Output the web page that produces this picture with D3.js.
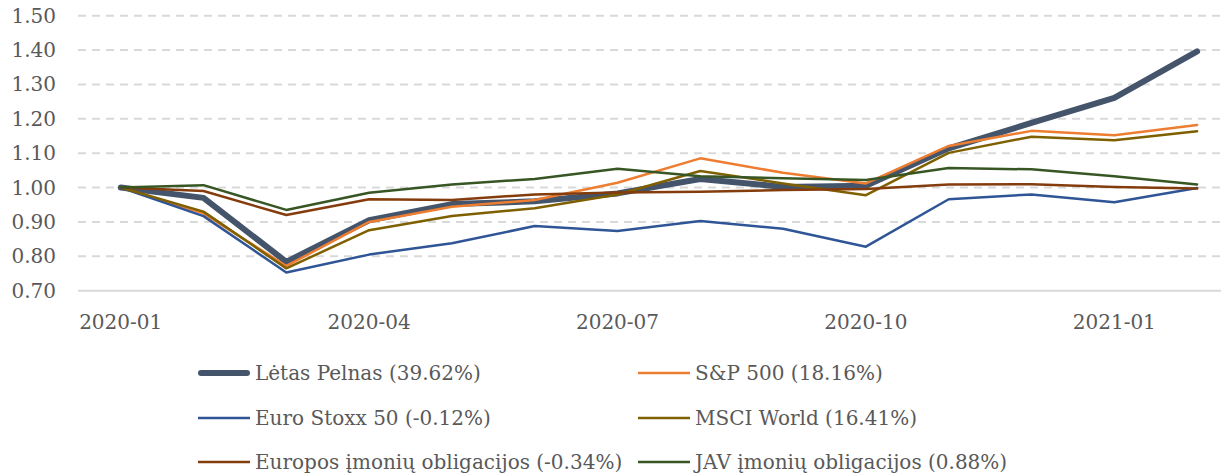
<!DOCTYPE html>
<html lang="lt">
  <head>
    <meta charset="UTF-8" />
    <title>Lėtas Pelnas</title>
    <style>
      body {
        margin: 0;
        background: #fff;
      }
      svg {
        display: block;
      }
      text {
        font-family: "DejaVu Serif", serif;
        font-size: 20px;
        fill: #595959;
      }
    </style>
  </head>
  <body>
    <svg width="1225" height="476"></svg>

    <script src="https://d3js.org/d3.v7.min.js"></script>
    <script>
      // mėnesiai
      const months = [
        "2020-01", "2020-02", "2020-03", "2020-04", "2020-05", "2020-06", "2020-07",
        "2020-08", "2020-09", "2020-10", "2020-11", "2020-12", "2021-01", "2021-02",
      ];
      const tickMonths = ["2020-01", "2020-04", "2020-07", "2020-10", "2021-01"];
      const yTicks = [0.7, 0.8, 0.9, 1.0, 1.1, 1.2, 1.3, 1.4, 1.5];

      const letasPelnas = [1.0, 0.97, 0.784, 0.905, 0.952, 0.96, 0.983, 1.025, 1.002, 1.005, 1.114, 1.188, 1.261, 1.396];
      const sp500 = [1.0, 0.925, 0.772, 0.9, 0.944, 0.964, 1.014, 1.085, 1.043, 1.012, 1.121, 1.165, 1.152, 1.182];
      const euroStoxx = [1.0, 0.917, 0.753, 0.805, 0.838, 0.888, 0.874, 0.903, 0.88, 0.828, 0.966, 0.98, 0.957, 0.999];
      const msciWorld = [1.0, 0.93, 0.765, 0.876, 0.917, 0.94, 0.98, 1.048, 1.012, 0.978, 1.101, 1.148, 1.138, 1.164];
      const europosObl = [1.0, 0.99, 0.92, 0.966, 0.964, 0.98, 0.986, 0.988, 0.993, 0.996, 1.009, 1.01, 1.002, 0.997];
      const javObl = [1.0, 1.007, 0.935, 0.985, 1.009, 1.025, 1.055, 1.033, 1.027, 1.022, 1.057, 1.053, 1.033, 1.009];

      // serijos (piešimo tvarka: storoji linija apačioje)
      const series = [
        { name: "Lėtas Pelnas (39.62%)", values: letasPelnas, color: "#44546a", width: 6 },
        { name: "S&P 500 (18.16%)", values: sp500, color: "#ed7d31", width: 2.5 },
        { name: "Euro Stoxx 50 (-0.12%)", values: euroStoxx, color: "#2f5597", width: 2.5 },
        { name: "MSCI World (16.41%)", values: msciWorld, color: "#7f6000", width: 2.5 },
        { name: "Europos įmonių obligacijos (-0.34%)", values: europosObl, color: "#843c0c", width: 2.5 },
        { name: "JAV įmonių obligacijos (0.88%)", values: javObl, color: "#375623", width: 2.5 },
      ];

      const svg = d3.select("svg");

      const x = d3.scalePoint().domain(months).range([120.7, 1197.1]);
      const y = d3.scaleLinear().domain([0.7, 1.5]).range([290.7, 15.7]);
      const gridLeft = 78;
      const gridRight = 1221;

      // tinklelis
      svg
        .append("g")
        .selectAll("line")
        .data(yTicks)
        .join("line")
        .attr("x1", gridLeft)
        .attr("x2", gridRight)
        .attr("y1", (d) => y(d))
        .attr("y2", (d) => y(d))
        .attr("stroke", "#d9d9d9")
        .attr("stroke-width", 2)
        .attr("stroke-dasharray", (d) => (d === 0.7 ? null : "8,6"));

      // Y ašies žymės
      svg
        .append("g")
        .selectAll("text")
        .data(yTicks)
        .join("text")
        .attr("x", 56)
        .attr("y", (d) => y(d))
        .attr("dy", "0.35em")
        .attr("text-anchor", "end")
        .text((d) => d.toFixed(2));

      // X ašies žymės
      svg
        .append("g")
        .selectAll("text")
        .data(tickMonths)
        .join("text")
        .attr("x", (d) => x(d))
        .attr("y", 329)
        .attr("text-anchor", "middle")
        .text((d) => d);

      // linijos
      const line = d3
        .line()
        .x((d, i) => x(months[i]))
        .y((d) => y(d));

      svg
        .append("g")
        .selectAll("path")
        .data(series)
        .join("path")
        .attr("fill", "none")
        .attr("stroke", (d) => d.color)
        .attr("stroke-width", (d) => d.width)
        .attr("stroke-linejoin", "round")
        .attr("stroke-linecap", "round")
        .attr("d", (d) => line(d.values));

      // legenda
      const legendCols = [198, 638];
      const legendRows = [373, 418, 462];
      const legend = svg
        .append("g")
        .selectAll("g")
        .data(series)
        .join("g")
        .attr("transform", (d, i) => `translate(${legendCols[i % 2]},${legendRows[Math.floor(i / 2)]})`);

      legend
        .append("line")
        .attr("x1", (d) => (d.width > 3 ? 3 : 0))
        .attr("x2", (d) => (d.width > 3 ? 49 : 52))
        .attr("stroke", (d) => d.color)
        .attr("stroke-width", (d) => d.width)
        .attr("stroke-linecap", (d) => (d.width > 3 ? "round" : "butt"));

      legend
        .append("text")
        .attr("x", 57)
        .attr("dy", "0.35em")
        .text((d) => d.name);
    </script>
  </body>
</html>
